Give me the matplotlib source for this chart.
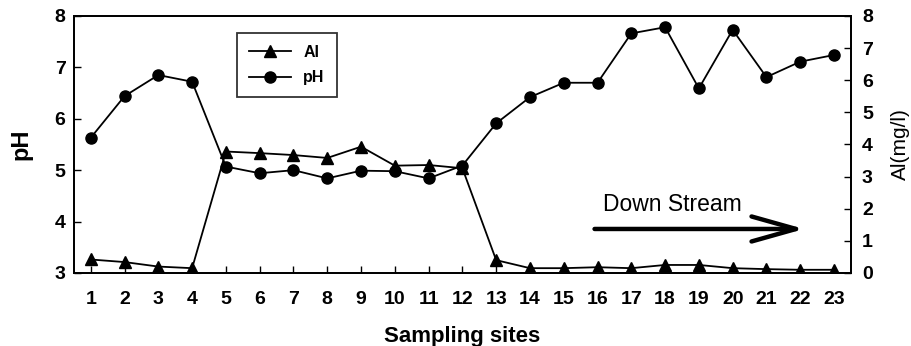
import matplotlib
matplotlib.use("Agg")
import matplotlib.pyplot as plt

plt.rcParams['font.family'] = ['Liberation Sans', 'DejaVu Sans']

sites = list(range(1, 24))
ph = [5.63, 6.44, 6.85, 6.72, 5.07, 4.94, 5.00, 4.84, 4.99, 4.98, 4.84, 5.09,
      5.91, 6.42, 6.70, 6.70, 7.66, 7.78, 6.59, 7.73, 6.81, 7.11, 7.24]
al = [0.42, 0.34, 0.20, 0.15, 3.78, 3.73, 3.67, 3.58, 3.93, 3.34, 3.36, 3.26,
      0.40, 0.15, 0.15, 0.18, 0.15, 0.25, 0.25, 0.15, 0.12, 0.10, 0.10]
ph_ticks = [3, 4, 5, 6, 7, 8]
al_ticks = [0, 1, 2, 3, 4, 5, 6, 7, 8]

fig = plt.figure(figsize=(9.12, 3.46), dpi=100)
ax = fig.add_axes([0.081, 0.211, 0.852, 0.743])
ax2 = ax.twinx()

l_al, = ax2.plot(sites, al, color='black', marker='^', markersize=9, lw=1.3, label='Al')
l_ph, = ax.plot(sites, ph, color='black', marker='o', markersize=8, lw=1.3, label='pH')

ax.set_xlim(0.5, 23.5)
ax.set_ylim(3, 8)
ax2.set_ylim(0, 8)
ax.set_xticks(sites)
ax.set_yticks(ph_ticks)
ax2.set_yticks(al_ticks)

for a in (ax, ax2):
    a.tick_params(direction='in', labelsize=14, length=5, width=1)
    for s in a.spines.values():
        s.set_linewidth(1.3)
ax.tick_params(axis='x', pad=13)
ax.tick_params(axis='y', pad=6)
ax2.tick_params(axis='y', pad=8)
for lab in ax.get_xticklabels() + ax.get_yticklabels() + ax2.get_yticklabels():
    lab.set_fontweight('bold')

ax.set_ylabel('pH', fontsize=17, fontweight='bold', labelpad=16)
ax2.set_ylabel('Al(mg/l)', fontsize=15, labelpad=13)
ax.set_xlabel('Sampling sites', fontsize=16, fontweight='bold', labelpad=13)

leg = ax.legend([l_al, l_ph], ['Al', 'pH'], loc='upper left',
                bbox_to_anchor=(0.21, 0.934), frameon=True, borderaxespad=0,
                prop={'size': 11.5, 'weight': 'bold'},
                fancybox=False, edgecolor='black', handlelength=2.6,
                borderpad=0.75, labelspacing=0.65)
leg.get_frame().set_linewidth(1.3)

ax2.text(16.16, 2.12, 'Down Stream', fontsize=16.5, va='center', ha='left')
ax2.annotate('', xy=(22.2, 1.37), xytext=(15.83, 1.37),
             arrowprops=dict(arrowstyle='->,head_length=3.2,head_width=0.9',
                             lw=3.2, color='black', mutation_scale=10))

fig.savefig('out.png', dpi=100)
